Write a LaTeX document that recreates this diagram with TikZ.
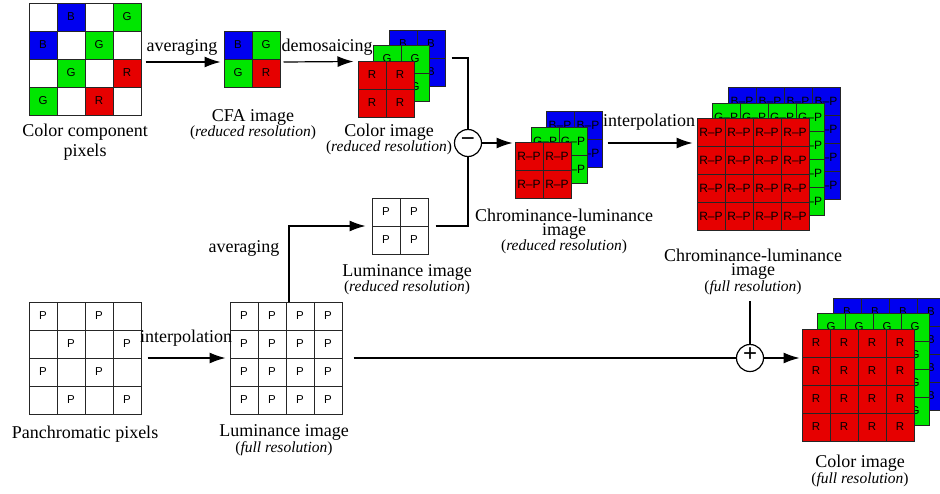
\documentclass[tikz,border=0pt]{standalone}
\usepackage{fontspec}
\setmainfont{Liberation Serif}
\newfontfamily\cellfont{Liberation Sans}
\usetikzlibrary{arrows.meta,calc}
\definecolor{cR}{RGB}{230,0,0}
\definecolor{cG}{RGB}{0,230,0}
\definecolor{cB}{RGB}{0,0,240}
\tikzset{
  lbl/.style={font=\fontsize{18}{20}\selectfont, inner sep=0pt},
  sublbl/.style={font=\fontsize{15.5}{17}\selectfont, inner sep=0pt},
  cell/.style={draw=black!85, line width=1pt, minimum size=28pt, inner sep=0pt, font=\cellfont\fontsize{11.5}{12}\selectfont},
  pane/.style={draw=black!85, line width=1pt, inner sep=0pt},
  conn/.style={line width=1.2pt},
  arr/.style={conn, -{Latex[length=16pt,width=11pt]}},
  op/.style={circle, draw, line width=1.2pt, minimum size=27pt, inner sep=0pt, text height=0.7em, text depth=0pt, font=\cellfont\fontsize{24}{24}\selectfont},
}
\newcommand\pixlayer[6]{% name, x0, y0, maxidx, color, text
  \pgfmathsetmacro\laysize{28*(#4+1)}
  \node[pane, fill=#5, minimum size=\laysize pt] (#1) at (#2+\laysize/2, #3+\laysize/2) {};
  \foreach \r in {0,...,#4} \foreach \c in {0,...,#4}
    \node[cell] (#1-\r-\c) at (#2+14+28*\c, #3+14+28*\r) {#6};
}
\newcommand\rp[1]{{\fontsize{12}{12}\selectfont #1}}
\begin{document}
\begin{tikzpicture}[x=1pt,y=-1pt]
\useasboundingbox (0,0) rectangle (940,493);
\clip (0,0) rectangle (940,493);

% colour component pixels
\node[pane, minimum size=112pt] (cc) at (85,59) {};
\foreach \r/\c/\f/\t in {0/0/white/{},0/1/cB/B,0/2/white/{},0/3/cG/G,
  1/0/cB/B,1/1/white/{},1/2/cG/G,1/3/white/{},
  2/0/white/{},2/1/cG/G,2/2/white/{},2/3/cR/R,
  3/0/cG/G,3/1/white/{},3/2/cR/R,3/3/white/{}}
  \node[cell, fill=\f] (cc-\r-\c) at (29+14+28*\c, 3+14+28*\r) {\t};
\node[lbl] (cc-l1) at (85,132) {Color component};
\node[lbl] (cc-l2) at (85,152) {pixels};

% CFA image
\node[pane, minimum size=56pt] (cfa) at (252,59) {};
\foreach \r/\c/\f/\t in {0/0/cB/B,0/1/cG/G,1/0/cG/G,1/1/cR/R}
  \node[cell, fill=\f] (cfa-\r-\c) at (224+14+28*\c, 31+14+28*\r) {\t};
\node[lbl] (cfa-l1) at (253,117) {CFA image};
\node[sublbl] (cfa-l2) at (253,133) {(\textit{reduced resolution})};

% colour image (reduced)
\pixlayer{crB}{389}{30}{1}{cB}{B}
\pixlayer{crG}{373}{45}{1}{cG}{G}
\pixlayer{crR}{358}{61}{1}{cR}{R}
\node[lbl] (cr-l1) at (389,132) {Color image};
\node[sublbl] (cr-l2) at (389,148) {(\textit{reduced resolution})};

% subtraction
\node[op] (sub) at (468,143) {−};

% chrominance-luminance (reduced)
\pixlayer{chB}{546}{111}{1}{cB}{\rp{B–P}}
\pixlayer{chG}{531}{127}{1}{cG}{\rp{G–P}}
\pixlayer{chR}{515}{142}{1}{cR}{\rp{R–P}}
\node[lbl] (ch-l1) at (564,215) {Chrominance-luminance};
\node[lbl] (ch-l2) at (564,231) {image};
\node[sublbl] (ch-l3) at (564,247) {(\textit{reduced resolution})};

% chrominance-luminance (full)
\pixlayer{cfB}{728}{87}{3}{cB}{\rp{B–P}}
\pixlayer{cfG}{712}{103}{3}{cG}{\rp{G–P}}
\pixlayer{cfR}{697}{118}{3}{cR}{\rp{R–P}}
\node[lbl] (cf-l1) at (753,255) {Chrominance-luminance};
\node[lbl] (cf-l2) at (753,271) {image};
\node[sublbl] (cf-l3) at (753,288) {(\textit{full resolution})};

% luminance (reduced)
\pixlayer{lumr}{372}{198}{1}{white}{P}
\node[lbl] (lumr-l1) at (407,272) {Luminance image};
\node[sublbl] (lumr-l2) at (407,288) {(\textit{reduced resolution})};

% panchromatic pixels
\node[pane, minimum size=112pt] (pan) at (85,358) {};
\foreach \r in {0,...,3} \foreach \c in {0,...,3} {
  \pgfmathtruncatemacro\oddcell{mod(\r+\c,2)}
  \node[cell] (pan-\r-\c) at (29+14+28*\c, 302+14+28*\r) {\ifnum\oddcell=0 P\fi};
}
\node[lbl] (pan-l1) at (85,434) {Panchromatic pixels};

% luminance (full)
\pixlayer{lumf}{230}{302}{3}{white}{P}
\node[lbl] (lumf-l1) at (284,432) {Luminance image};
\node[sublbl] (lumf-l2) at (284,449) {(\textit{full resolution})};

% addition
\node[op] (add) at (750,358) {+};

% colour image (full)
\pixlayer{ofB}{833}{298}{3}{cB}{B}
\pixlayer{ofG}{817}{313}{3}{cG}{G}
\pixlayer{ofR}{802}{329}{3}{cR}{R}
\node[lbl] (of-l1) at (860,463) {Color image};
\node[sublbl] (of-l2) at (860,480) {(\textit{full resolution})};

% connectors
\draw[arr] ([xshift=4pt,yshift=-3pt]cc.east) -- ([xshift=-3pt,yshift=-3pt]cfa.west);
\node[lbl] (t-avg1) at (182,47) {averaging};
\draw[arr] ([xshift=3pt,yshift=-3pt]cfa.east) -- ([xshift=-4pt,yshift=-1pt]crR.north west);
\node[lbl] (t-dem) at (327,47) {demosaicing};
\draw[conn] ([xshift=6pt]crB.east) -| (sub.north);
\draw[arr] (sub.east) -- ($(sub.east -| chR.west)+(-2,0)$);
\draw[conn] ([xshift=7pt]lumr.east) -| (sub.south);
\draw[arr] ([xshift=3pt]lumf.north) |- ([xshift=-6pt]lumr.west);
\node[lbl] (t-avg2) at (244,248) {averaging};
\coordinate (ia) at ($(chB.east)+(5,4)$);
\draw[arr] (ia) -- ($(ia -| cfR.west)+(-4,0)$);
\node[lbl] (t-int1) at (649,122) {interpolation};
\draw[arr] ([xshift=6pt]pan.east) -- ([xshift=-4pt]lumf.west);
\node[lbl] (t-int2) at (186,338) {interpolation};
\draw[conn] ([xshift=11pt]lumf.east) -- (add.west);
\draw[conn] ($(cf-l3.south -| add.north)+(0,6)$) -- (add.north);
\draw[arr] (add.east) -- ($(add.east -| ofR.west)+(-2,0)$);
\end{tikzpicture}
\end{document}
